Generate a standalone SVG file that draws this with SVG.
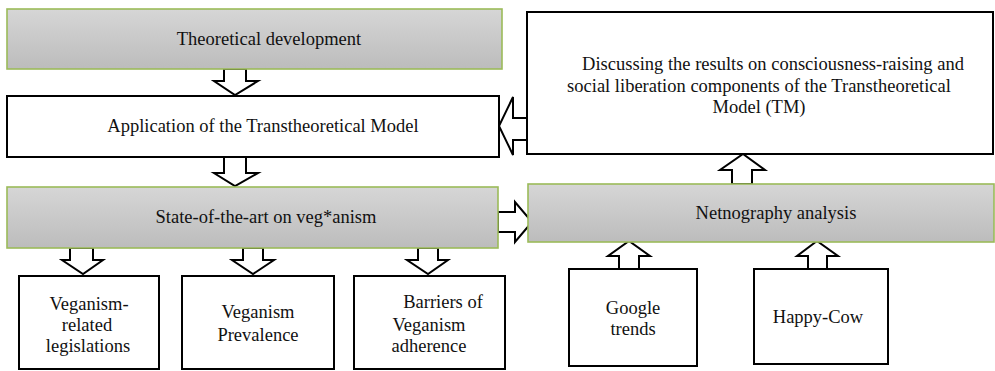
<svg xmlns="http://www.w3.org/2000/svg" width="995" height="371" viewBox="0 0 995 371">
<defs>
<linearGradient id="g" x1="0" y1="0" x2="0" y2="1">
<stop offset="0" stop-color="#d6d6d6"/>
<stop offset="1" stop-color="#bcbcbc"/>
</linearGradient>
</defs>
<style>
.gray{fill:url(#g);stroke:#9bbb59;stroke-width:1.6}
.wbox{fill:#fff;stroke:#000;stroke-width:2}
.arr{fill:#fff;stroke:#000;stroke-width:2;stroke-linejoin:miter}
text{font-family:'Liberation Serif','Times New Roman',Tinos,'DejaVu Serif',serif;font-size:18.5px;fill:#111;text-anchor:middle}
</style>
<rect width="995" height="371" fill="#fff"/>
<g id="connectors">
<polygon class="arr" points="224,69 246,69 246,81 258,81 235,95 214,81 224,81"/>
<polygon class="arr" points="224,157 246,157 246,173 258,173 235,186 214,173 224,173"/>
<polygon class="arr" points="527,118 513,118 513,97 499,126 513,155 513,140 527,140"/>
<polygon class="arr" points="732,184 752,184 752,170 765,170 743,154 720,170 732,170"/>
<polygon class="arr" points="498,212 515,212 515,202 532,222 515,242 515,232 498,232"/>
<polygon class="arr" points="70,248 93,248 93,260 103,260 83,274 62,260 70,260"/>
<polygon class="arr" points="243,248 263,248 263,260 274,260 253,274 232,260 243,260"/>
<polygon class="arr" points="418,248 438,248 438,260 448,260 428,274 407,260 418,260"/>
<polygon class="arr" points="619,269 639,269 639,256 650,256 629,241 608,256 619,256"/>
<polygon class="arr" points="808,269 827,269 827,256 838,256 817,241 797,256 808,256"/>
</g>
<g id="theoretical">
<rect class="gray" x="7" y="9" width="495" height="60"/>
<text x="269" y="45" font-family="Liberation Serif, serif">Theoretical development</text>
</g>
<g id="application">
<rect class="wbox" x="7" y="96" width="492" height="61"/>
<text x="263" y="132">Application of the Transtheoretical Model</text>
</g>
<g id="discussing">
<rect class="wbox" x="527" y="12" width="466" height="142"/>
<text x="773" y="70">Discussing the results on consciousness-raising and</text>
<text x="759" y="91.5">social liberation components of the Transtheoretical</text>
<text x="759" y="113">Model (TM)</text>
</g>
<g id="state">
<rect class="gray" x="7" y="187" width="491" height="61"/>
<text x="266" y="223">State-of-the-art on veg*anism</text>
</g>
<g id="netnography">
<rect class="gray" x="528" y="184" width="466" height="58"/>
<text x="776" y="219">Netnography analysis</text>
</g>
<g id="legislations">
<rect class="wbox" x="19" y="276" width="140" height="93"/>
<text x="89" y="310">Veganism-</text>
<text x="87" y="331">related</text>
<text x="88" y="352">legislations</text>
</g>
<g id="prevalence">
<rect class="wbox" x="182" y="276" width="152" height="93"/>
<text x="258" y="318">Veganism</text>
<text x="258" y="341">Prevalence</text>
</g>
<g id="barriers">
<rect class="wbox" x="354" y="276" width="151" height="93"/>
<text x="443" y="308">Barriers of</text>
<text x="429" y="331">Veganism</text>
<text x="429" y="352">adherence</text>
</g>
<g id="google">
<rect class="wbox" x="569" y="269" width="128" height="97"/>
<text x="633" y="314">Google</text>
<text x="633" y="335">trends</text>
</g>
<g id="happycow">
<rect class="wbox" x="754" y="269" width="134" height="95"/>
<text x="818" y="323">Happy-Cow</text>
</g>
</svg>
